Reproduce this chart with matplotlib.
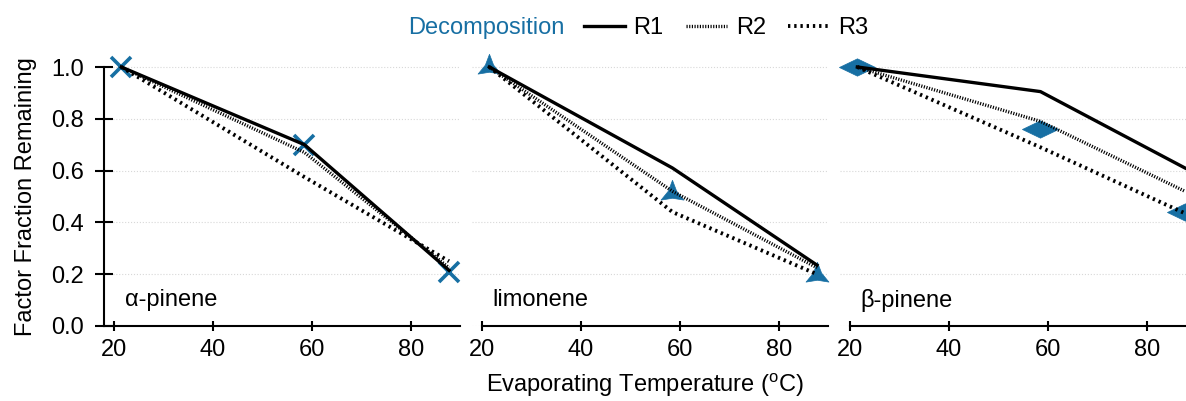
import numpy as np
import matplotlib
matplotlib.use('Agg')
import matplotlib.pyplot as plt
from matplotlib.path import Path

plt.rcParams['font.family'] = ['Liberation Sans', 'DejaVu Sans']
plt.rcParams['mathtext.fontset'] = 'custom'
plt.rcParams['mathtext.rm'] = 'Liberation Sans'

# data
compounds = ['α-pinene', 'limonene', 'β-pinene']
temps = [21.5, 58.5, 87.7]
decomp = [[1.0, 0.70, 0.21],
          [1.0, 0.515, 0.197],
          [1.0, 0.76, 0.44]]
r1 = [[1.0, 0.70, 0.215],
      [1.0, 0.61, 0.235],
      [1.0, 0.905, 0.61]]
r2 = [[1.0, 0.67, 0.225],
      [1.0, 0.52, 0.225],
      [1.0, 0.79, 0.52]]
r3 = [[1.0, 0.575, 0.25],
      [1.0, 0.44, 0.20],
      [1.0, 0.69, 0.435]]
x_ticks = [20, 40, 60, 80]
y_ticks = [0.0, 0.2, 0.4, 0.6, 0.8, 1.0]

BLUE = '#176fa3'
FS = 17

wide_diamond = Path([(-1, 0), (0, 0.48), (1, 0), (0, -0.48), (-1, 0)],
                    [Path.MOVETO, Path.LINETO, Path.LINETO, Path.LINETO, Path.CLOSEPOLY])
# three-pointed star with concave sides
ang_out = np.deg2rad([90, 210, 330])
ang_in = ang_out + np.deg2rad(60)
star_pts = []
for a, b in zip(ang_out, ang_in):
    star_pts.append((np.cos(a), np.sin(a)))
    star_pts.append((0.36 * np.cos(b), 0.36 * np.sin(b)))
star_pts.append(star_pts[0])
tri_star = Path(star_pts, [Path.MOVETO] + [Path.LINETO] * 5 + [Path.CLOSEPOLY])
markers = [('x', 14, 2.6), (tri_star, 19, 0.5), (wide_diamond, 26, 0.5)]

W, H = 1186, 401
fig = plt.figure(figsize=(W / 100, H / 100), dpi=100)

x_lim = (18, 90)
px_per_unit = 4.95
ax_w = (x_lim[1] - x_lim[0]) * px_per_unit
y_top = 1.08
ax_h = y_top * 259
lefts = [104, 472, 840]

for i, name in enumerate(compounds):
    ax = fig.add_axes([lefts[i] / W, 75 / H, ax_w / W, ax_h / H])
    ax.set_xlim(x_lim)
    ax.set_ylim(0, y_top)
    mk, ms, mew = markers[i]
    ax.plot(temps, decomp[i], linestyle='None', marker=mk, markersize=ms,
            color=BLUE, mec=BLUE, mew=mew, zorder=2, clip_on=False)
    ax.plot(temps, r1[i], color='black', lw=2.4, zorder=3, label='R1')
    ax.plot(temps, r2[i], color='black', lw=2.4, linestyle=(0, (0.35, 0.45)), zorder=3, label='R2')
    ax.plot(temps, r3[i], color='black', lw=2.8, linestyle=(0, (0.6, 1.0)), zorder=3, label='R3')

    ax.set_xticks(x_ticks)
    ax.set_yticks(y_ticks)
    ax.tick_params(axis='both', labelsize=FS, direction='inout', width=1.5)
    ax.tick_params(axis='x', length=7, pad=6)
    ax.tick_params(axis='y', length=13, pad=8)
    ax.yaxis.grid(True, color='#d8d8d8', lw=0.8, linestyle=':')
    ax.set_axisbelow(True)
    for s in ['top', 'right']:
        ax.spines[s].set_visible(False)
    ax.spines['bottom'].set_linewidth(1.5)
    ax.spines['left'].set_linewidth(1.5)
    ax.spines['left'].set_bounds(0, 1.0)
    if i > 0:
        ax.spines['left'].set_visible(False)
        ax.spines['bottom'].set_bounds(20, 90)
        ax.tick_params(axis='y', left=False, labelleft=False)
    ax.text(22.2, 0.1, name, fontsize=FS, va='center', ha='left',
            bbox=dict(facecolor='white', edgecolor='none', pad=1.5, alpha=0.9))
    if i == 0:
        handles, labels = ax.get_legend_handles_labels()

fig.text(26 / W, 1 - 197 / H, 'Factor Fraction Remaining', rotation=90,
         fontsize=FS, ha='center', va='center')
fig.text(645 / W, 1 - 385 / H, 'Evaporating Temperature ($^{\\mathrm{o}}$C)',
         fontsize=FS, ha='center', va='center')

fig.text(486 / W, 1 - 28 / H, 'Decomposition', color=BLUE, fontsize=FS,
         ha='center', va='center')
fig.legend(handles, labels, loc='center', bbox_to_anchor=(726 / W, 1 - 28 / H),
           ncol=3, frameon=False, fontsize=FS, handlelength=1.75,
           handletextpad=0.35, columnspacing=0.95, borderpad=0)

fig.savefig('out.png', dpi=100)
